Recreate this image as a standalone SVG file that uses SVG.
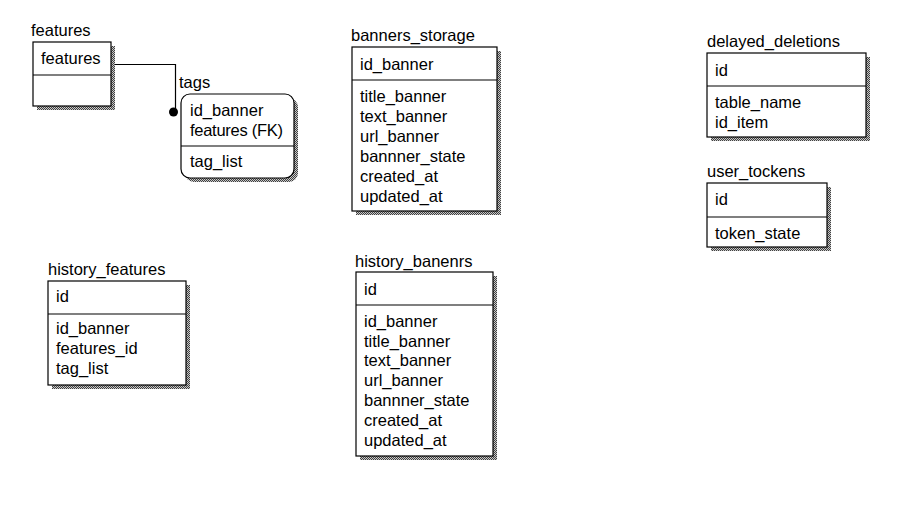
<svg xmlns="http://www.w3.org/2000/svg" width="912" height="517" viewBox="0 0 912 517">
<defs>
<pattern id="hatch" width="2" height="2" patternUnits="userSpaceOnUse">
<rect width="2" height="2" fill="#c8c8c8"/>
<rect width="1" height="1" fill="#404040"/>
<rect x="1" y="1" width="1" height="1" fill="#404040"/>
</pattern>
</defs>
<style>
text{font-family:"Liberation Sans",Arial,sans-serif;font-size:16.5px;fill:#000}
.box{fill:#fff;stroke:#000;stroke-width:1.2}
.sh{fill:url(#hatch);stroke:none}
.div{stroke:#000;stroke-width:1.2}
.conn{fill:none;stroke:#000;stroke-width:1.2}
</style>
<rect width="912" height="517" fill="#fff"/>

<g id="connectors">
<path class="conn" d="M111,64.5 H175.5 V111"/>
<circle cx="173.5" cy="112" r="4.5" fill="#000"/>
</g>

<g id="features">
<text x="31" y="36">features</text>
<rect class="sh" x="37" y="46" width="78" height="64"/>
<rect class="box" x="33" y="42" width="78" height="64"/>
<line class="div" x1="33" y1="75" x2="111" y2="75"/>
<text x="41" y="64">features</text>
</g>

<g id="tags">
<text x="179" y="88">tags</text>
<rect class="sh" x="185" y="98" width="113" height="84" rx="9"/>
<rect class="box" x="181" y="94" width="113" height="84" rx="9"/>
<line class="div" x1="181" y1="146" x2="294" y2="146"/>
<text x="190" y="116">id_banner</text>
<text x="190" y="136" textLength="93">features (FK)</text>
<text x="190" y="167">tag_list</text>
</g>

<g id="banners_storage">
<text x="351" y="41">banners_storage</text>
<rect class="sh" x="356" y="51" width="145" height="164"/>
<rect class="box" x="352" y="47" width="145" height="164"/>
<line class="div" x1="352" y1="80" x2="497" y2="80"/>
<text x="360" y="70">id_banner</text>
<text x="360" y="102">title_banner</text>
<text x="360" y="122">text_banner</text>
<text x="360" y="142">url_banner</text>
<text x="360" y="162">bannner_state</text>
<text x="360" y="182">created_at</text>
<text x="360" y="202">updated_at</text>
</g>

<g id="delayed_deletions">
<text x="707" y="47">delayed_deletions</text>
<rect class="sh" x="711" y="57" width="159" height="84"/>
<rect class="box" x="707" y="53" width="159" height="84"/>
<line class="div" x1="707" y1="86" x2="866" y2="86"/>
<text x="715" y="76">id</text>
<text x="715" y="108">table_name</text>
<text x="715" y="128">id_item</text>
</g>

<g id="user_tockens">
<text x="707" y="177">user_tockens</text>
<rect class="sh" x="711" y="187" width="120" height="64"/>
<rect class="box" x="707" y="183" width="120" height="64"/>
<line class="div" x1="707" y1="217" x2="827" y2="217"/>
<text x="715" y="205">id</text>
<text x="715" y="239">token_state</text>
</g>

<g id="history_features">
<text x="48" y="275">history_features</text>
<rect class="sh" x="52" y="285" width="138" height="104"/>
<rect class="box" x="48" y="281" width="138" height="104"/>
<line class="div" x1="48" y1="314" x2="186" y2="314"/>
<text x="56" y="302">id</text>
<text x="56" y="334">id_banner</text>
<text x="56" y="354">features_id</text>
<text x="56" y="374">tag_list</text>
</g>

<g id="history_banenrs">
<text x="355" y="267">history_banenrs</text>
<rect class="sh" x="360" y="276" width="137" height="184"/>
<rect class="box" x="356" y="272" width="137" height="184"/>
<line class="div" x1="356" y1="305" x2="493" y2="305"/>
<text x="364" y="295">id</text>
<text x="364" y="327">id_banner</text>
<text x="364" y="347">title_banner</text>
<text x="364" y="366">text_banner</text>
<text x="364" y="386">url_banner</text>
<text x="364" y="406">bannner_state</text>
<text x="364" y="426">created_at</text>
<text x="364" y="446">updated_at</text>
</g>
</svg>
